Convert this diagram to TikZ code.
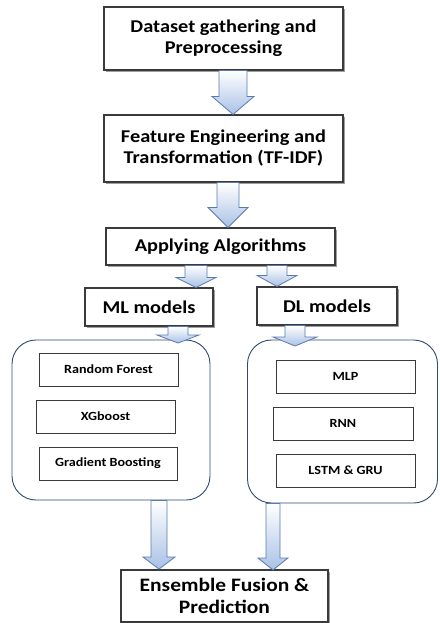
\documentclass[tikz,border=0pt]{standalone}
\usepackage{fontspec}
\setmainfont{Carlito}[FakeStretch=1.13]
\usetikzlibrary{calc,shadows}
\definecolor{arrowfill}{HTML}{A9C1E6}
\definecolor{arrowline}{HTML}{5A7AAE}
\definecolor{contline}{HTML}{2E4A72}
\definecolor{boxline}{HTML}{3A3A3A}
\tikzset{
  mainbox/.style={draw=boxline, line width=1.1pt, fill=white, align=center,
    inner sep=0pt, font=\bfseries\fontsize{18}{21}\selectfont,
    drop shadow={shadow xshift=1.6pt, shadow yshift=-1.6pt, fill=gray!75, opacity=1}},
  smallbox/.style={draw=boxline, line width=1pt, fill=white, align=center,
    inner sep=0pt, font=\bfseries\fontsize{12.5}{14}\selectfont,
    drop shadow={shadow xshift=1.3pt, shadow yshift=-1.3pt, fill=gray!75, opacity=1}},
  container/.style={draw=contline, line width=0.9pt, rounded corners=24pt, fill=white},
  barrow/.style={draw=arrowline, line width=0.8pt, top color=white, bottom color=arrowfill, line join=miter}
}
\newcommand\blockarrow[6]{%
  \path[barrow] let \p1=#2, \p2=#3 in
    ({(#1-#4)*1pt},\y1) -- ({(#1+#4)*1pt},\y1) -- ({(#1+#4)*1pt},{\y2+#6pt})
    -- ({(#1+#5)*1pt},{\y2+#6pt}) -- ({#1*1pt},\y2) -- ({(#1-#5)*1pt},{\y2+#6pt})
    -- ({(#1-#4)*1pt},{\y2+#6pt}) -- cycle;}
\begin{document}
\begin{tikzpicture}[x=1pt,y=-1pt]
\useasboundingbox (0,0) rectangle (439,623);
% main boxes
\node[mainbox, minimum width=239pt, minimum height=63pt] (b1) at (223.5,38.5) {Dataset gathering and\\Preprocessing};
\node[mainbox, minimum width=239pt, minimum height=67pt] (b2) at (223.5,148.5) {Feature Engineering and\\Transformation (TF-IDF)};
\node[mainbox, minimum width=229pt, minimum height=37pt] (b3) at (220.5,246.5) {Applying Algorithms};
\node[mainbox, minimum width=128pt, minimum height=38pt] (ml) at (149,307) {ML models};
\node[mainbox, minimum width=140pt, minimum height=38pt] (dl) at (327,306) {DL models};
% containers
\node[container, minimum width=198pt, minimum height=160pt] (cml) at (111,420) {};
\node[container, minimum width=190pt, minimum height=163pt] (cdl) at (342.5,421.5) {};
% inner boxes
\node[smallbox, minimum width=139pt, minimum height=33pt] (rf) at (108.5,369.5) {Random Forest};
\node[smallbox, minimum width=139pt, minimum height=33pt] (xg) at (105.5,416.5) {XGboost};
\node[smallbox, minimum width=138pt, minimum height=33pt] (gb) at (108,463.5) {Gradient Boosting};
\node[smallbox, minimum width=139pt, minimum height=33pt] (mlp) at (345.5,376.5) {MLP};
\node[smallbox, minimum width=140pt, minimum height=33pt] (rnn) at (343,423.5) {RNN};
\node[smallbox, minimum width=139pt, minimum height=33pt] (lstm) at (345.5,470.5) {LSTM \& GRU};
% final box
\node[mainbox, minimum width=207pt, minimum height=52pt, font=\bfseries\fontsize{19}{22}\selectfont] (ens) at (224.5,596) {Ensemble Fusion \&\\Prediction};
% arrows
\coordinate (mlt) at (178,343);
\coordinate (dlt) at (295,346);
\coordinate (ensl) at (159,569);
\coordinate (ensr) at (273,570);
\blockarrow{233}{(b1.south)}{(b2.north)}{14}{21}{18}
\blockarrow{228}{(b2.south)}{(b3.north)}{11}{20}{20}
\blockarrow{196}{(b3.south)}{(ml.north)}{11}{20}{10}
\blockarrow{277}{(b3.south)}{(dl.north)}{10}{20}{11}
\blockarrow{178}{(ml.south)}{(mlt)}{10}{21}{8}
\blockarrow{295}{(dl.south)}{(dlt)}{10}{22}{9}
\blockarrow{159}{(cml.south)}{(ensl)}{8}{16}{12}
\blockarrow{273}{(cdl.south)}{(ensr)}{7}{15}{12}
\end{tikzpicture}
\end{document}
